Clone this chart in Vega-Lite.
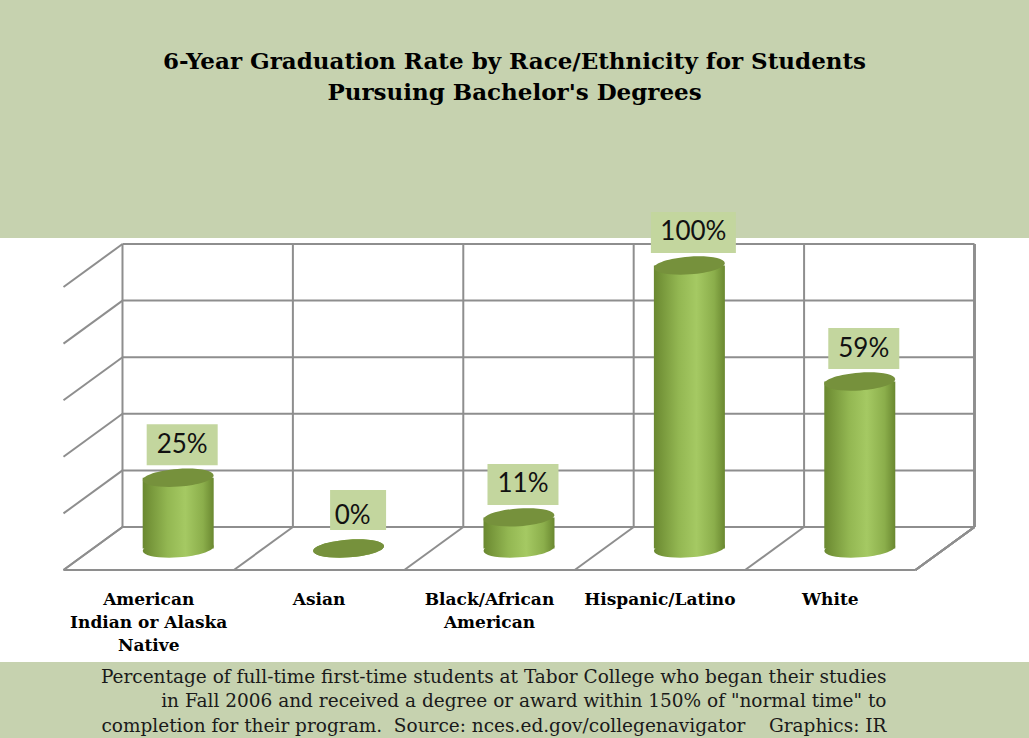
{
  "$schema": "https://vega.github.io/schema/vega-lite/v6.json",
  "width": 1029,
  "height": 424,
  "autosize": {"type": "none"},
  "padding": {"top": 238, "bottom": 76, "left": 0, "right": 0},
  "background": "#C6D2AF",
  "view": {"fill": "white", "stroke": null},
  "title": {
    "text": ["6-Year Graduation Rate by Race/Ethnicity for Students", "Pursuing Bachelor's Degrees"],
    "font": "DejaVu Serif",
    "fontSize": 23,
    "fontWeight": "bold",
    "color": "#000000",
    "anchor": "middle",
    "frame": "group",
    "offset": 107,
    "lineHeight": 31
  },
  "datasets": {
    "races": [
      {"race": "American Indian or Alaska Native", "rate": 0.25},
      {"race": "Asian", "rate": 0.0},
      {"race": "Black/African American", "rate": 0.11},
      {"race": "Hispanic/Latino", "rate": 1.0},
      {"race": "White", "rate": 0.59}
    ],
    "grid": [{"v": 0}, {"v": 0.2}, {"v": 0.4}, {"v": 0.6}, {"v": 0.8}, {"v": 1.0}]
  },
  "encoding": {
    "x": {
      "field": "race",
      "type": "nominal",
      "sort": null,
      "scale": {
        "domain": ["American Indian or Alaska Native", "Asian", "Black/African American", "Hispanic/Latino", "White"],
        "paddingInner": 0,
        "paddingOuter": 0.5194,
        "align": 0.692,
        "round": false
      },
      "axis": {
        "orient": "bottom",
        "offset": -71,
        "domain": false,
        "ticks": false,
        "grid": false,
        "labelAngle": 0,
        "labelOffset": -59,
        "labelPadding": 0,
        "labelBaseline": "top",
        "labelFont": "DejaVu Serif",
        "labelFontWeight": "bold",
        "labelFontSize": 17,
        "labelLineHeight": 23,
        "labelColor": "#000000",
        "labelLimit": 0,
        "labelOverlap": false,
        "labelExpr": "datum.label == 'American Indian or Alaska Native' ? ['American', 'Indian or Alaska', 'Native'] : datum.label == 'Black/African American' ? ['Black/African', 'American'] : datum.label",
        "title": [
          "Percentage of full-time first-time students at Tabor College who began their studies",
          "in Fall 2006 and received a degree or award within 150% of \"normal time\" to",
          "completion for their program.\u00a0 Source: nces.ed.gov/collegenavigator\u00a0\u00a0\u00a0 Graphics: IR"
        ],
        "titleFont": "DejaVu Serif",
        "titleFontWeight": "normal",
        "titleFontSize": 18.5,
        "titleLineHeight": 24.5,
        "titleColor": "#1A1A1A",
        "titleAlign": "right",
        "titleBaseline": "alphabetic",
        "titleX": 886,
        "titleY": 91
      }
    }
  },
  "layer": [
    {
      "data": {"name": "grid"},
      "mark": {"type": "rule", "color": "#8E8E8E", "strokeWidth": 2, "xOffset": -85.2, "x2Offset": 85.2},
      "encoding": {
        "x": {"datum": "American Indian or Alaska Native", "type": "nominal"},
        "x2": {"datum": "White"},
        "y": {"field": "v", "type": "quantitative", "scale": {"domain": [-0.477, 1.0212], "nice": false, "zero": false}, "axis": null}
      }
    },
    {
      "data": {"name": "grid"},
      "mark": {"type": "rule", "color": "#8E8E8E", "strokeWidth": 2, "xOffset": -85.2, "x2Offset": -144.2, "y2Offset": 43},
      "encoding": {
        "x": {"datum": "American Indian or Alaska Native", "type": "nominal"},
        "x2": {"datum": "American Indian or Alaska Native"},
        "y": {"field": "v", "type": "quantitative"},
        "y2": {"field": "v"}
      }
    },
    {
      "data": {"name": "races"},
      "mark": {"type": "rule", "color": "#8E8E8E", "strokeWidth": 2, "xOffset": -85.2},
      "encoding": {
        "y": {"datum": 0, "type": "quantitative"},
        "y2": {"datum": 1.0}
      }
    },
    {
      "data": {"name": "races"},
      "mark": {"type": "rule", "color": "#8E8E8E", "strokeWidth": 2, "xOffset": 85.2},
      "encoding": {
        "x": {"datum": "White", "type": "nominal"},
        "y": {"datum": 0, "type": "quantitative"},
        "y2": {"datum": 1.0}
      }
    },
    {
      "data": {"name": "races"},
      "mark": {"type": "rule", "color": "#8E8E8E", "strokeWidth": 2, "xOffset": -85.2, "x2Offset": -144.2, "y2Offset": 43},
      "encoding": {
        "x2": {"field": "race"},
        "y": {"datum": 0, "type": "quantitative"},
        "y2": {"datum": 0}
      }
    },
    {
      "data": {"name": "races"},
      "mark": {"type": "rule", "color": "#8E8E8E", "strokeWidth": 2, "xOffset": 85.2, "x2Offset": 26.2, "y2Offset": 43},
      "encoding": {
        "x": {"datum": "White", "type": "nominal"},
        "x2": {"datum": "White"},
        "y": {"datum": 0, "type": "quantitative"},
        "y2": {"datum": 0}
      }
    },
    {
      "data": {"name": "grid"},
      "transform": [{"filter": "datum.v == 0"}],
      "mark": {"type": "rule", "color": "#8E8E8E", "strokeWidth": 2, "xOffset": -144.2, "x2Offset": 26.2, "yOffset": 43},
      "encoding": {
        "x": {"datum": "American Indian or Alaska Native", "type": "nominal"},
        "x2": {"datum": "White"},
        "y": {"field": "v", "type": "quantitative"}
      }
    },
    {
      "data": {"name": "races"},
      "mark": {
        "type": "point",
        "shape": "M -1 0 A 1 0.25 0 1 1 1 0 A 1 0.25 0 1 1 -1 0 Z",
        "size": 5041,
        "angle": -4,
        "filled": true,
        "opacity": 1,
        "strokeWidth": 0,
        "xOffset": -29.5,
        "yOffset": 21.5,
        "fill": {"gradient": "linear", "x1": 0, "x2": 1, "y1": 0, "y2": 0,
          "stops": [{"offset": 0, "color": "#6A8830"}, {"offset": 0.35, "color": "#93B752"}, {"offset": 0.6, "color": "#A5C963"}, {"offset": 0.85, "color": "#8BAE4B"}, {"offset": 1, "color": "#6A8830"}]}
      },
      "encoding": {
        "y": {"datum": 0, "type": "quantitative"}
      }
    },
    {
      "data": {"name": "races"},
      "mark": {
        "type": "bar",
        "width": 71,
        "xOffset": -29.5,
        "yOffset": 21.5,
        "y2Offset": 21.5,
        "fill": {"gradient": "linear", "x1": 0, "x2": 1, "y1": 0, "y2": 0,
          "stops": [{"offset": 0, "color": "#6A8830"}, {"offset": 0.35, "color": "#93B752"}, {"offset": 0.6, "color": "#A5C963"}, {"offset": 0.85, "color": "#8BAE4B"}, {"offset": 1, "color": "#6A8830"}]}
      },
      "encoding": {
        "y": {"field": "rate", "type": "quantitative"},
        "y2": {"datum": 0}
      }
    },
    {
      "data": {"name": "races"},
      "mark": {
        "type": "point",
        "shape": "M -1 0 A 1 0.25 0 1 1 1 0 A 1 0.25 0 1 1 -1 0 Z",
        "size": 5041,
        "angle": -4,
        "filled": true,
        "opacity": 1,
        "strokeWidth": 0,
        "xOffset": -29.5,
        "yOffset": 21.5,
        "fill": "#76913C"
      },
      "encoding": {
        "y": {"field": "rate", "type": "quantitative"}
      }
    },
    {
      "data": {"name": "races"},
      "transform": [{"filter": "datum.rate > 0 && datum.rate < 1"}],
      "mark": {"type": "bar", "width": 71, "xOffset": -25.5, "yOffset": -32, "y2Offset": 9, "fill": "#C3D69E"},
      "encoding": {
        "y": {"field": "rate", "type": "quantitative"},
        "y2": {"field": "rate"}
      }
    },
    {
      "data": {"name": "races"},
      "transform": [{"filter": "datum.rate >= 1"}],
      "mark": {"type": "bar", "width": 85, "xOffset": -25.5, "yOffset": -32, "y2Offset": 9, "fill": "#C3D69E"},
      "encoding": {
        "y": {"field": "rate", "type": "quantitative"},
        "y2": {"field": "rate"}
      }
    },
    {
      "data": {"name": "races"},
      "transform": [{"filter": "datum.rate == 0"}],
      "mark": {"type": "bar", "width": 56, "xOffset": -20, "yOffset": -37, "y2Offset": 3, "fill": "#C3D69E"},
      "encoding": {
        "y": {"field": "rate", "type": "quantitative"},
        "y2": {"field": "rate"}
      }
    },
    {
      "data": {"name": "races"},
      "mark": {"type": "text", "font": "Lato", "fontSize": 26, "color": "#111111", "baseline": "middle", "align": "center", "xOffset": -25.5, "yOffset": -11.5},
      "encoding": {
        "y": {"field": "rate", "type": "quantitative"},
        "text": {"field": "rate", "type": "quantitative", "format": ".0%"}
      }
    }
  ]
}
